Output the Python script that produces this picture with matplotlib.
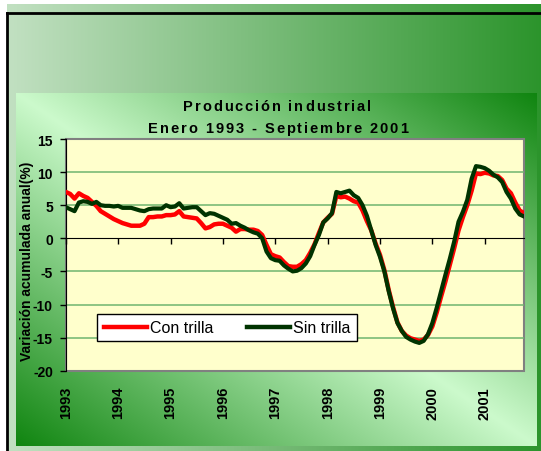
import numpy as np
import matplotlib
matplotlib.use("Agg")
import matplotlib.pyplot as plt

plt.rcParams["font.family"] = ["Liberation Sans", "DejaVu Sans"]

# monthly values, Jan 1993 onwards
con_trilla = [7.0, 6.7, 6.0, 6.8, 6.4, 6.1, 5.5, 4.9, 4.1, 3.7,
              3.3, 2.9, 2.6, 2.3, 2.1, 1.9, 1.9, 1.9, 2.2, 3.2,
              3.2, 3.3, 3.3, 3.5, 3.5, 3.6, 4.1, 3.3, 3.2, 3.1,
              3.0, 2.3, 1.5, 1.7, 2.1, 2.2, 2.2, 1.9, 1.6, 1.0,
              1.4, 1.4, 1.3, 1.3, 1.1, 0.5, -1.0, -2.4, -2.7, -2.9,
              -3.6, -4.2, -4.3, -4.3, -3.9, -3.3, -2.2, -0.9, 0.8, 2.4,
              3.1, 3.7, 6.4, 6.2, 6.3, 6.0, 5.6, 5.4, 4.2, 2.6,
              1.2, -0.8, -2.5, -4.8, -7.8, -10.4, -12.7, -14.0, -14.7, -15.1,
              -15.3, -15.5, -15.3, -14.6, -13.3, -11.2, -8.8, -6.5, -4.0, -1.5,
              1.2, 3.2, 5.0, 7.2, 9.8, 9.7, 9.9, 9.8, 9.5, 9.4,
              8.8, 7.5, 6.8, 5.4, 4.2, 3.8]
sin_trilla = [4.7, 4.4, 4.1, 5.4, 5.6, 5.5, 5.2, 5.5, 5.0, 4.9,
              4.9, 4.8, 4.9, 4.6, 4.6, 4.6, 4.4, 4.2, 4.1, 4.4,
              4.5, 4.5, 4.5, 5.0, 4.7, 4.8, 5.3, 4.5, 4.6, 4.7,
              4.7, 4.1, 3.5, 3.8, 3.7, 3.4, 3.1, 2.8, 2.2, 2.3,
              1.9, 1.6, 1.2, 0.9, 0.7, 0.0, -2.0, -3.0, -3.3, -3.4,
              -4.1, -4.6, -5.0, -4.9, -4.5, -3.8, -2.7, -1.0, 0.5, 2.4,
              3.0, 3.8, 7.0, 6.8, 7.0, 7.2, 6.5, 6.1, 5.0, 3.4,
              1.2, -1.0, -2.8, -5.0, -8.0, -10.6, -12.8, -14.0, -14.9, -15.3,
              -15.6, -15.8, -15.5, -14.5, -12.8, -10.5, -8.0, -5.5, -3.1, -0.5,
              2.5, 4.0, 5.8, 9.0, 10.9, 10.8, 10.6, 10.2, 9.6, 9.2,
              8.5, 7.0, 6.0, 4.5, 3.6, 3.3]
years = ["1993", "1994", "1995", "1996", "1997", "1998", "1999", "2000", "2001"]
yticks = [-20, -15, -10, -5, 0, 5, 10, 15]

W, H = 541, 452
fig = plt.figure(figsize=(W / 100, H / 100), dpi=100)
fig.patch.set_facecolor("white")

# background: slide gradient + chart area gradient
bg = fig.add_axes([0, 0, 1, 1])
bg.set_zorder(0)
yy, xx = np.mgrid[0:H, 0:W]
img = np.ones((H, W, 3))
light_o = np.array([0.76, 0.88, 0.76])
dark_o = np.array([0.17, 0.58, 0.17])
t = np.clip((xx - 7) / (W - 7), 0, 1)[..., None]
outer = light_o + (dark_o - light_o) * t
m_out = (xx >= 7) & (yy >= 5)
img[m_out] = outer[m_out]
light_i = np.array([0.80, 0.98, 0.80])
dark_i = np.array([0.06, 0.52, 0.06])
u = (xx - 16) / 521.0
v = (yy - 94) / 353.0
s = np.clip(np.abs(u - v), 0, 1)[..., None]
inner = light_i + (dark_i - light_i) * s
m_in = (xx >= 16) & (xx < 537) & (yy >= 94) & (yy < 447)
img[m_in] = inner[m_in]
bg.imshow(img, extent=(0, W, H, 0), aspect="auto", interpolation="bilinear")
bg.plot([7, W], [14, 14], color="black", lw=2)
bg.plot([7, 7], [14, H], color="black", lw=2)
bg.set_xlim(0, W)
bg.set_ylim(H, 0)
bg.axis("off")

ax = fig.add_axes([65.8 / W, 1 - 371.7 / H, 458.2 / W, 231.7 / H])
ax.set_zorder(1)
ax.set_facecolor("#FFFFCC")
ax.patch.set_edgecolor("#808080")
ax.patch.set_linewidth(1.5)

months = np.arange(len(con_trilla))
for yv in yticks:
    if yv not in (0, 15, -20):
        ax.axhline(yv, color="#6fb56f", lw=1.1, zorder=1)

ax.plot(months, con_trilla, color="#FF0000", lw=3.2, label="Con trilla", zorder=3)
ax.plot(months, sin_trilla, color="#003300", lw=3.0, label="Sin trilla", zorder=4)

ax.set_xlim(0, 105)
ax.set_ylim(-20, 15)
ax.set_yticks(yticks)
ax.set_yticklabels([str(y) for y in yticks], fontsize=10, fontweight="bold")
ax.tick_params(axis="y", direction="out", length=4.3, width=1, pad=5, color="black")

xt = np.arange(0, 12 * len(years), 12)
ax.spines["bottom"].set_position(("data", 0))
ax.spines["bottom"].set_color("black")
ax.spines["left"].set_color("black")
ax.spines["top"].set_visible(False)
ax.spines["right"].set_visible(False)
ax.set_xticks(xt)
ax.tick_params(axis="x", direction="out", length=4, width=1, labelbottom=False)
for p, lab in zip(xt, years):
    ax.text(p, -0.066, lab, transform=ax.get_xaxis_transform(), rotation=90,
            ha="center", va="top", fontsize=10.5, fontweight="bold")

leg = ax.legend(loc="center", bbox_to_anchor=(0.352, 0.186), ncol=2, fontsize=11.5,
                frameon=True, fancybox=False, edgecolor="black", framealpha=1,
                handlelength=2.7, handletextpad=0.2, columnspacing=2.1, borderpad=0.4)
leg.get_frame().set_linewidth(1)
for ln in leg.get_lines():
    ln.set_linewidth(3.2)


def spaced(s, xc, ybase, gap, size):
    r = fig.canvas.get_renderer()

    def width(txt):
        tt = fig.text(0, 0, txt, fontsize=size, fontweight="bold")
        w = tt.get_window_extent(r).width
        tt.remove()
        return w

    bar = width("|")
    ws = [width(c + "|") - bar for c in s]
    x = xc - (sum(ws) + gap * (len(s) - 1)) / 2
    for c, w in zip(s, ws):
        fig.text(x / W, 1 - ybase / H, c, fontsize=size, fontweight="bold",
                 ha="left", va="baseline")
        x += w + gap


spaced("Producción industrial", 277, 111, 1.9, 10.5)
spaced("Enero 1993 - Septiembre 2001", 278, 133, 1.9, 10.5)

fig.text(27 / W, 1 - 261 / H, "Variación acumulada anual(%)", rotation=90,
         ha="center", va="center", fontsize=10, fontweight="bold")

fig.savefig("out.png", dpi=100)
